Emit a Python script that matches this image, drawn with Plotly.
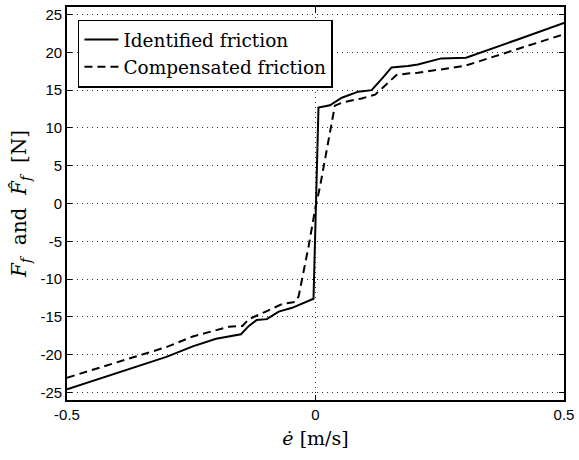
import plotly.graph_objects as go

# Identified friction (solid)
x_ident = [-0.5, -0.3, -0.247, -0.2, -0.15, -0.134, -0.118, -0.098, -0.074, -0.047, -0.004, 0.006,
           0.029, 0.053, 0.086, 0.113, 0.136, 0.153, 0.186, 0.206, 0.253, 0.303, 0.407, 0.5]
y_ident = [-24.6, -20.3, -18.9, -17.9, -17.3, -16.2, -15.4, -15.3, -14.3, -13.8, -12.6, 12.7,
           13.0, 14.0, 14.8, 15.0, 16.7, 18.0, 18.2, 18.4, 19.2, 19.3, 21.7, 23.9]

# Compensated friction (dashed)
x_comp = [-0.5, -0.3, -0.247, -0.174, -0.147, -0.134, -0.1, -0.067, -0.04, -0.034, -0.014, 0.0,
          0.009, 0.026, 0.039, 0.056, 0.093, 0.12, 0.143, 0.163, 0.186, 0.206, 0.3, 0.407, 0.5]
y_comp = [-23.05, -19.0, -17.6, -16.3, -16.2, -15.3, -14.3, -13.3, -13.0, -12.3, -5.7, -0.5,
          2.2, 8.3, 12.95, 13.4, 13.9, 14.4, 15.8, 17.0, 17.2, 17.3, 18.2, 20.4, 22.4]

y_ticks = [-25, -20, -15, -10, -5, 0, 5, 10, 15, 20, 25]
y_tick_labels = ["-25", "-20", "-15", "-10", "-5", "0", "5", "10", "15", "20", "25"]
x_ticks = [-0.5, 0, 0.5]
x_tick_labels = ["-0.5", "0", "0.5"]

fig = go.Figure()
fig.add_trace(go.Scatter(x=x_ident, y=y_ident, mode="lines", name="Identified friction",
                         line=dict(color="black", width=2)))
fig.add_trace(go.Scatter(x=x_comp, y=y_comp, mode="lines", name="Compensated friction",
                         line=dict(color="black", width=2, dash="8px,5px")))

axis_common = dict(showline=True, linecolor="black", linewidth=1.8, mirror="ticks",
                   ticks="inside", ticklen=5, tickcolor="black", tickwidth=1,
                   showgrid=True, gridcolor="#333333", griddash="1px,4px", gridwidth=1,
                   zeroline=False,
                   tickfont=dict(family="Liberation Sans, Arial", size=15, color="black"))

fig.update_xaxes(range=[-0.5, 0.5], tickvals=x_ticks, ticktext=x_tick_labels,
                 title=dict(text="<i>ė</i> [m/s]", font=dict(family="DejaVu Serif, Liberation Serif", size=19, color="black"), standoff=10),
                 **axis_common)
fig.update_yaxes(range=[-26, 26], tickvals=y_ticks, ticktext=y_tick_labels,
                 title=dict(text="<i>F</i><sub><i>f</i></sub>  and  <i>F̂</i><sub><i>f</i></sub>  [N]",
                            font=dict(family="DejaVu Serif, Liberation Serif", size=20, color="black"), standoff=8),
                 **axis_common)

fig.update_layout(
    width=579, height=460,
    margin=dict(l=67, r=13, t=5, b=60),
    paper_bgcolor="white", plot_bgcolor="white",
    showlegend=True,
    legend=dict(x=0.022, y=0.968, xanchor="left", yanchor="top",
                bgcolor="white", bordercolor="black", borderwidth=1.5,
                font=dict(family="DejaVu Serif, Liberation Serif", size=18.5, color="black"),
                itemwidth=34, tracegroupgap=0,
                traceorder="normal"),
)

fig.write_html("out.html")
